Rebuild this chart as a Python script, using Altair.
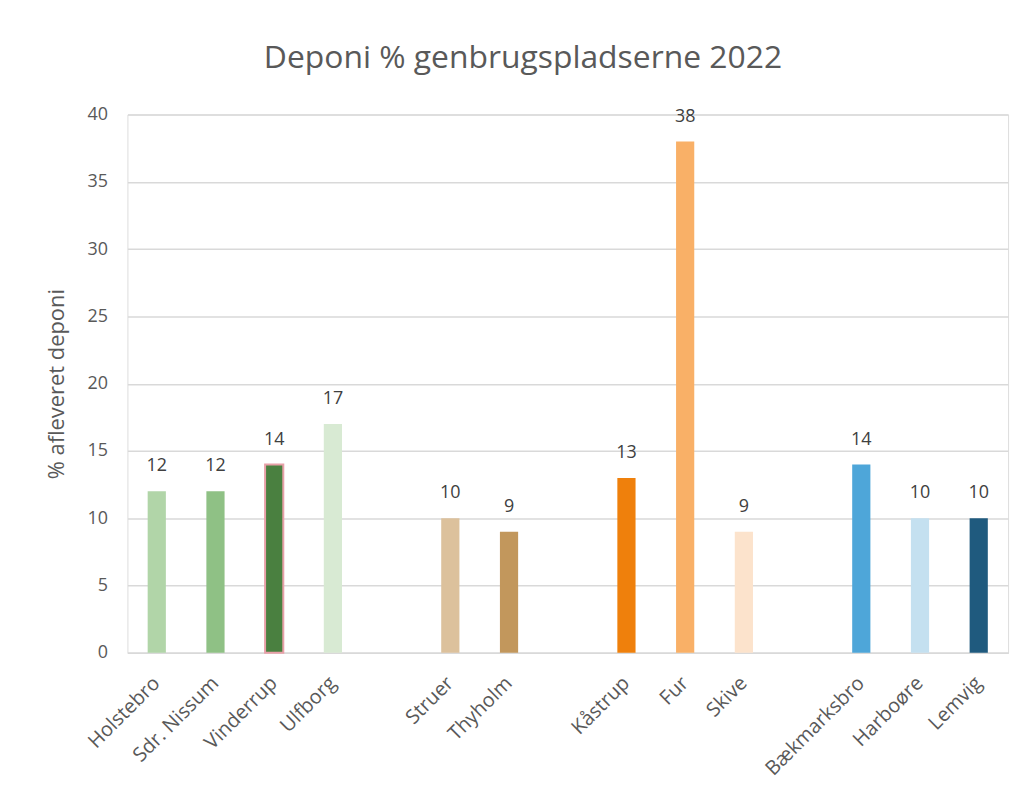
import altair as alt
import pandas as pd

categories = ["Holstebro", "Sdr. Nissum", "Vinderrup", "Ulfborg",
              "Struer", "Thyholm",
              "Kåstrup", "Fur", "Skive",
              "Bækmarksbro", "Harboøre", "Lemvig"]
values = [12, 12, 14, 17, 10, 9, 13, 38, 9, 14, 10, 10]
colors = ["#b1d5a8", "#8fc185", "#4a8040", "#d8ead3",
          "#dcc19c", "#c2975c",
          "#ef800c", "#f9b067", "#fce3cc",
          "#4ea6d9", "#c4e0f0", "#1f5a7e"]
strokes = ["none", "none", "#e8a0a8", "none",
           "none", "none", "none", "none", "none", "none", "none", "none"]
# order of slots on the axis, with empty gap slots between groups
domain = ["Holstebro", "Sdr. Nissum", "Vinderrup", "Ulfborg", " ",
          "Struer", "Thyholm", "  ",
          "Kåstrup", "Fur", "Skive", "   ",
          "Bækmarksbro", "Harboøre", "Lemvig"]

df = pd.DataFrame({"site": categories, "value": values,
                   "color": colors, "stroke": strokes})

FONT = "Open Sans"

x = alt.X("site:N", sort=domain,
          scale=alt.Scale(domain=domain, paddingInner=0.69, paddingOuter=0.345),
          axis=alt.Axis(title=None, labelAngle=-45, labelAlign="right",
                        labelBaseline="middle", labelFontSize=20, labelColor="#595959",
                        labelFont=FONT, labelPadding=27, ticks=False,
                        domainColor="#d9d9d9", domainWidth=1.5, labelOverlap=False))
y = alt.Y("value:Q",
          scale=alt.Scale(domain=[0, 40], nice=False),
          axis=alt.Axis(title="% afleveret deponi", titleFontSize=22, titleFont=FONT,
                        titleFontWeight="normal", titleColor="#595959", titlePadding=19,
                        values=[0, 5, 10, 15, 20, 25, 30, 35, 40],
                        labelFontSize=18, labelColor="#595959", labelFont=FONT,
                        labelPadding=20, ticks=False, domain=False,
                        gridColor="#d9d9d9", gridWidth=1.5))

bars = alt.Chart(df).mark_bar(strokeWidth=2).encode(
    x=x, y=y,
    color=alt.Color("color:N", scale=None, legend=None),
    stroke=alt.Stroke("stroke:N", scale=None, legend=None),
)

labels = alt.Chart(df).mark_text(dy=-25, fontSize=18, font=FONT, color="#404040").encode(
    x=alt.X("site:N", sort=domain, scale=alt.Scale(domain=domain)),
    y="value:Q",
    text=alt.Text("value:Q", format="d"),
)

chart = alt.layer(bars, labels).properties(
    width=885, height=541,
    title=alt.TitleParams("Deponi % genbrugspladserne 2022", fontSize=32, font=FONT,
                          fontWeight="normal", color="#595959", anchor="middle",
                          dx=-45, offset=31),
    autosize=alt.AutoSizeParams(type="none"),
    padding={"left": 120, "top": 105, "right": 14, "bottom": 175},
).configure_view(stroke=None).configure(background="white")

chart.save("out.html", embed_options={"renderer": "svg", "actions": False})
